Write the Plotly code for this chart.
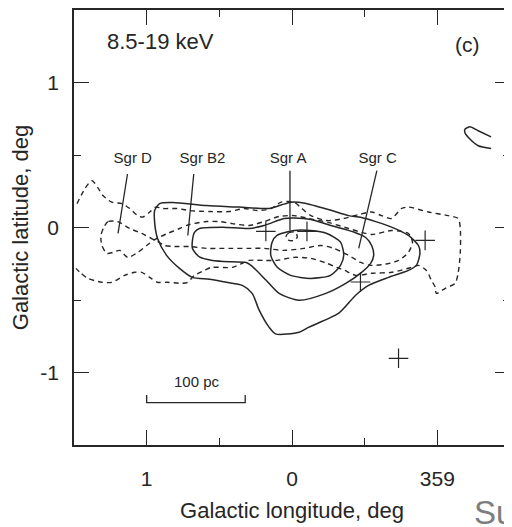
import plotly.graph_objects as go

# ---------------- data (galactic longitude l [deg, signed], latitude b [deg]) ----------------
# solid contours
s1_l = [0.945, 0.945, 0.911, 0.822, 0.589, 0.363, 0.158, 0.075, 0.007, -0.089, -0.274, -0.390, -0.479,
        -0.685, -0.801, -0.870, -0.880, -0.856, -0.801, -0.664, -0.527, -0.438, -0.322, -0.116, -0.048,
        0.110, 0.158, 0.226, 0.274, 0.342, 0.452, 0.568, 0.685, 0.774, 0.863, 0.925, 0.945]
s1_b = [0.034, 0.117, 0.165, 0.172, 0.151, 0.141, 0.131, 0.155, 0.175, 0.168, 0.117, 0.082, 0.069,
        0.003, -0.055, -0.124, -0.179, -0.261, -0.296, -0.344, -0.399, -0.467, -0.591, -0.687, -0.722,
        -0.735, -0.687, -0.570, -0.454, -0.399, -0.378, -0.357, -0.344, -0.282, -0.192, -0.076, 0.034]

s2_l = [0.685, 0.671, 0.637, 0.479, 0.295, 0.192, 0.055, -0.014, -0.130, -0.267, -0.425, -0.507, -0.548,
        -0.562, -0.541, -0.479, -0.370, -0.233, -0.048, 0.089, 0.178, 0.274, 0.315, 0.411, 0.548, 0.637,
        0.685, 0.685]
s2_b = [-0.089, -0.034, -0.007, 0.002, -0.007, 0.014, 0.062, 0.065, 0.055, 0.014, -0.031, -0.069, -0.124,
        -0.192, -0.247, -0.309, -0.385, -0.454, -0.502, -0.454, -0.364, -0.268, -0.241, -0.237, -0.227,
        -0.203, -0.144, -0.089]

s3_l = [0.137, 0.103, -0.014, -0.128, -0.240, -0.334, -0.356, -0.334, -0.265, -0.128, 0.009, 0.103, 0.146, 0.137]
s3_b = [-0.101, -0.055, -0.021, -0.021, -0.041, -0.101, -0.192, -0.261, -0.330, -0.351, -0.330, -0.273, -0.192, -0.101]

s4_l = [-1.370, -1.281, -1.224, -1.190, -1.190, -1.224, -1.281, -1.370]
s4_b = [0.625, 0.667, 0.694, 0.678, 0.653, 0.610, 0.564, 0.545]

# dashed contours
d1_l = [1.479, 1.425, 1.377, 1.336, 1.301, 1.240, 1.171, 1.116, 1.062, 1.027, 0.979, 0.938, 0.890, 0.795,
        0.705, 0.568, 0.432, 0.329, 0.240, 0.144, 0.075, -0.014, -0.068, -0.130, -0.240, -0.356, -0.459,
        -0.548, -0.616, -0.685, -0.753, -0.801, -0.938, -1.075, -1.144, -1.158, -1.158, -1.144, -1.123,
        -1.055, -0.993, -0.986, -0.959, -0.925, -0.870, -0.822, -0.685, -0.548, -0.438, -0.363, -0.308,
        -0.240, -0.130, -0.014, 0.103, 0.192, 0.295, 0.411, 0.555, 0.603, 0.671, 0.719, 0.760, 0.856,
        0.925, 0.979, 1.034, 1.082, 1.151, 1.240, 1.308, 1.404, 1.459, 1.486]
d1_b = [0.165, 0.268, 0.323, 0.275, 0.220, 0.175, 0.165, 0.131, 0.082, 0.072, 0.107, 0.141, 0.131, 0.131,
        0.117, 0.110, 0.110, 0.131, 0.117, 0.131, 0.175, 0.175, 0.131, 0.082, 0.048, 0.062, 0.089,
        0.107, 0.082, 0.062, 0.131, 0.141, 0.107, 0.082, 0.062, -0.007, -0.172, -0.309, -0.385,
        -0.419, -0.454, -0.412, -0.364, -0.296, -0.261, -0.275, -0.309, -0.316, -0.330, -0.296, -0.275,
        -0.247, -0.213, -0.206, -0.227, -0.227, -0.227, -0.275, -0.275, -0.296, -0.330, -0.378, -0.385, -0.378,
        -0.378, -0.344, -0.309, -0.309, -0.330, -0.378, -0.378, -0.351, -0.309, -0.282]

d2_l = [1.199, 1.267, 1.295, 1.315, 1.308, 1.274, 1.233, 1.185, 1.130, 1.062, 1.000, 0.932, 0.856, 0.774,
        0.705, 0.589, 0.500, 0.411, 0.295, 0.192, 0.089, -0.014, -0.116, -0.253, -0.390, -0.548, -0.685,
        -0.801, -0.829, -0.801, -0.733, -0.637, -0.541, -0.473, -0.390, -0.288, -0.199, -0.082, 0.055,
        0.192, 0.308, 0.411, 0.500, 0.589, 0.705, 0.808, 0.877, 0.925, 0.966, 1.034, 1.116, 1.199]
d2_b = [0.041, 0.041, 0.000, -0.055, -0.124, -0.179, -0.172, -0.158, -0.206, -0.172, -0.124, -0.076, -0.041, -0.007,
        0.021, 0.041, 0.041, 0.027, 0.014, 0.041, 0.076, 0.082, 0.062, 0.034, -0.007, -0.048, -0.021,
        -0.041, -0.103, -0.172, -0.227, -0.254, -0.261, -0.241, -0.192, -0.144, -0.124, -0.144, -0.158,
        -0.144, -0.144, -0.144, -0.144, -0.144, -0.131, -0.131, -0.124, -0.096, -0.076, -0.041, -0.007, 0.041]

d3_l = [0.043, 0.021, -0.025, -0.036, -0.014, 0.021, 0.043]
d3_b = [-0.067, -0.036, -0.032, -0.067, -0.089, -0.089, -0.067]

# point sources (+)
src_l = [0.180, -0.103, -0.916, -0.471, -0.733]
src_b = [-0.027, -0.027, -0.089, -0.376, -0.902]

# source labels and leader lines
names = ["Sgr D", "Sgr B2", "Sgr A", "Sgr C"]
name_l = [1.096, 0.616, 0.027, -0.589]
name_b = [0.474, 0.474, 0.474, 0.474]
lead_l0 = [1.132, 0.676, 0.014, -0.584]
lead_b0 = [0.369, 0.369, 0.392, 0.392]
lead_l1 = [1.197, 0.717, 0.014, -0.459]
lead_b1 = [-0.041, -0.055, -0.021, -0.144]

# 100 pc scale bar
bar_l = [1.0, 0.322]
bar_b = -1.208
bar_tick_b = -1.155
bar_text_l = 0.651
bar_text_b = -1.065

tick_vals = [1, 0, -1]
x_tick_text = ["1", "0", "359"]
y_tick_text = ["1", "0", "-1"]

# ---------------- figure ----------------
INK = "#262626"
FONT = "Liberation Sans, Arial, sans-serif"

fig = go.Figure()

for xs, ys in [(s1_l, s1_b), (s2_l, s2_b), (s3_l, s3_b), (s4_l, s4_b)]:
    fig.add_trace(go.Scatter(x=xs, y=ys, mode="lines",
                             line=dict(color=INK, width=1.5, shape="spline", smoothing=0.7),
                             hoverinfo="skip", showlegend=False))
for xs, ys in [(d1_l, d1_b), (d2_l, d2_b), (d3_l, d3_b)]:
    fig.add_trace(go.Scatter(x=xs, y=ys, mode="lines",
                             line=dict(color=INK, width=1.4, dash="5px,4px", shape="spline", smoothing=0.7),
                             hoverinfo="skip", showlegend=False))

# leader lines
for i in range(len(names)):
    fig.add_trace(go.Scatter(x=[lead_l0[i], lead_l1[i]], y=[lead_b0[i], lead_b1[i]], mode="lines",
                             line=dict(color=INK, width=1.3), hoverinfo="skip", showlegend=False))

# scale bar
fig.add_trace(go.Scatter(x=[bar_l[0], bar_l[0], bar_l[1], bar_l[1]],
                         y=[bar_tick_b, bar_b, bar_b, bar_tick_b], mode="lines",
                         line=dict(color=INK, width=1.3), hoverinfo="skip", showlegend=False))

# crosses
fig.add_trace(go.Scatter(x=src_l, y=src_b, mode="markers",
                         marker=dict(symbol="cross-thin", size=14, line=dict(color=INK, width=1.2)),
                         hoverinfo="skip", showlegend=False))

# labels
fig.add_trace(go.Scatter(x=name_l, y=name_b, mode="text", text=names,
                         textfont=dict(family=FONT, size=15, color=INK),
                         hoverinfo="skip", showlegend=False))

fig.add_annotation(x=bar_text_l, y=bar_text_b, text="100 pc", showarrow=False,
                   font=dict(family=FONT, size=15, color=INK))
fig.add_annotation(x=1.288, y=1.282, text="8.5-19 keV", showarrow=False, xanchor="left",
                   font=dict(family=FONT, size=22, color=INK))
fig.add_annotation(x=-1.209, y=1.265, text="(c)", showarrow=False,
                   font=dict(family=FONT, size=21, color=INK))
fig.add_annotation(xref="paper", yref="paper", x=0.912, y=-0.155, text="Su", showarrow=False,
                   xanchor="left", yanchor="middle", font=dict(family=FONT, size=33, color="#7d7d7d"))

axis_common = dict(showgrid=False, zeroline=False, showline=True, linecolor=INK, linewidth=1.5,
                   ticks="inside", ticklen=15, tickwidth=1.3, tickcolor=INK, mirror="ticks",
                   tickfont=dict(family=FONT, size=21, color=INK), tickvals=tick_vals,
                   minor=dict(tickvals=[0.5, -0.5], ticks="inside", ticklen=7, tickwidth=1.2, tickcolor=INK))

fig.update_xaxes(range=[1.5, -1.5], ticktext=x_tick_text, ticklabelstandoff=14,
                 title=dict(text="Galactic longitude, deg", font=dict(family=FONT, size=22, color=INK), standoff=14),
                 **axis_common)
fig.update_yaxes(range=[-1.5, 1.5], ticktext=y_tick_text, ticklabelstandoff=9,
                 title=dict(text="Galactic latitude, deg", font=dict(family=FONT, size=22, color=INK), standoff=8),
                 **axis_common)

# page body has an 8px margin: size the figure so the plot frame lands where the reference has it
fig.update_layout(width=504, height=519, margin=dict(l=66, r=0, t=1, b=82),
                  plot_bgcolor="white", paper_bgcolor="white", showlegend=False)

fig.write_html("out.html")
